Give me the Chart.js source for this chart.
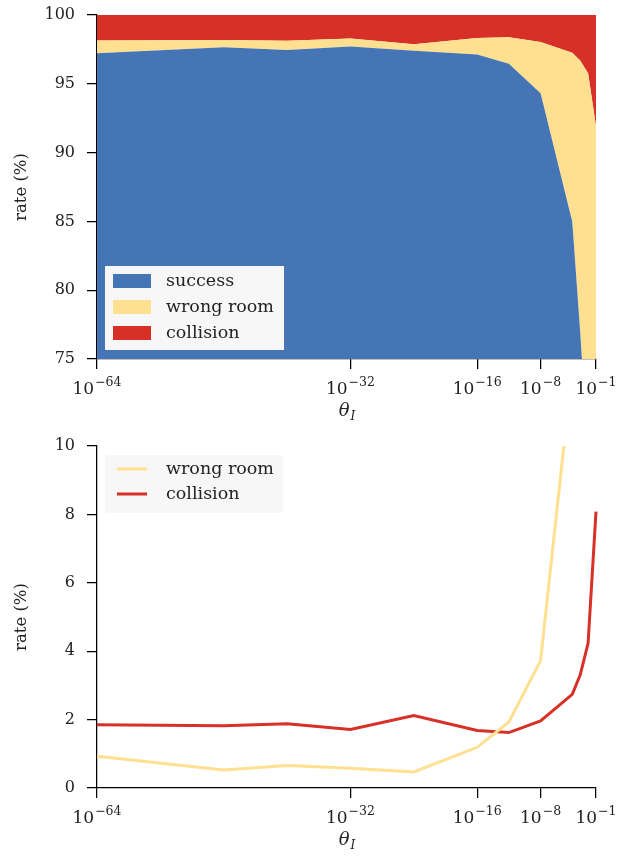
<!DOCTYPE html>
<html>
<head>
<meta charset="utf-8">
<script src="https://cdn.jsdelivr.net/npm/chart.js@4"></script>
<style>
  body { margin: 0; background: #fff; }
  .box { position: absolute; left: 0; width: 618px; }
</style>
</head>
<body>
<div class="box" style="top:0;height:430px"><canvas id="topChart"></canvas></div>
<div class="box" style="top:430px;height:426px"><canvas id="bottomChart"></canvas></div>
<script>
// exponent of theta_I (log10), x axis is linear in the exponent
const exps = [-64, -48, -40, -32, -24, -16, -12, -8, -4, -3, -2, -1];
const success = [97.22, 97.65, 97.46, 97.71, 97.41, 97.13, 96.45, 94.32, 85.0, 77.0, 68.0, 50.0];
const wrongRoom = [0.93, 0.53, 0.66, 0.58, 0.47, 1.19, 1.93, 3.72, 12.26, 19.7, 27.77, 41.92];
const collision = [1.85, 1.82, 1.88, 1.71, 2.12, 1.68, 1.62, 1.96, 2.74, 3.30, 4.23, 8.08];

const xTicks = [-64, -32, -16, -8, -1];
const xTickBase = '10';
const xTickExps = ['\u221264', '\u221232', '\u221216', '\u22128', '\u22121'];

const BLUE = '#4575b4', YELLOW = '#fee090', RED = '#d73027';
const SERIF = '"DejaVu Serif", serif';

function pts(ys) {
  return exps.map((e, i) => ({ x: e, y: ys[i] }));
}

function xScale() {
  return {
    type: 'linear', min: -64, max: -1,
    afterBuildTicks: s => { s.ticks = xTicks.map(v => ({ value: v })); },
    afterFit: s => { s.height = s.chart.height - s.chart.options.plotBottom; s.paddingLeft = 0; s.paddingRight = 0; },
    ticks: { display: false },
    grid: { display: true, drawOnChartArea: false, drawTicks: true, tickLength: 10, color: '#000', lineWidth: 1.25 },
    border: { display: true, color: '#000', width: 1.25 }
  };
}

function yScale(min, max, step, stacked) {
  return {
    min: min, max: max, stacked: stacked,
    afterFit: s => { s.width = 97; s.paddingTop = 0; s.paddingBottom = 0; },
    ticks: { stepSize: step, padding: 12, color: '#222', font: { family: SERIF, size: 16 } },
    grid: { display: true, drawOnChartArea: false, drawTicks: true, tickLength: 10, color: '#000', lineWidth: 1.25 },
    border: { display: true, color: '#000', width: 1.25 }
  };
}

// x tick labels with exponents, axis titles and legend drawn on the canvas
const decor = {
  id: 'decor',
  afterDraw(chart) {
    const ctx = chart.ctx, a = chart.chartArea, o = chart.options;
    const xs = chart.scales.x;
    ctx.save();
    ctx.fillStyle = '#222';
    ctx.textAlign = 'left';
    ctx.textBaseline = 'alphabetic';
    // x tick labels 10^e
    xTicks.forEach((v, i) => {
      ctx.font = '17px ' + SERIF;
      const wb = ctx.measureText(xTickBase).width;
      ctx.font = '12.5px ' + SERIF;
      const we = ctx.measureText(xTickExps[i]).width;
      const x0 = xs.getPixelForValue(v) - (wb + we + 1) / 2;
      const by = a.bottom + 35;
      ctx.font = '17px ' + SERIF;
      ctx.fillText(xTickBase, x0, by);
      ctx.font = '12.5px ' + SERIF;
      ctx.fillText(xTickExps[i], x0 + wb + 1, by - 8);
    });
    // y title
    ctx.font = '16.5px ' + SERIF;
    ctx.translate(22, (a.top + a.bottom) / 2);
    ctx.rotate(-Math.PI / 2);
    ctx.textAlign = 'center';
    ctx.textBaseline = 'middle';
    ctx.fillText('rate (%)', 0, 0);
    ctx.setTransform(chart.currentDevicePixelRatio, 0, 0, chart.currentDevicePixelRatio, 0, 0);
    // x title theta_I
    const cx = (a.left + a.right) / 2, ty = a.bottom + 57;
    ctx.textAlign = 'left';
    ctx.textBaseline = 'alphabetic';
    ctx.font = 'italic 18px ' + SERIF;
    const w1 = ctx.measureText('\u03B8').width;
    ctx.font = 'italic 12px ' + SERIF;
    const w2 = ctx.measureText('I').width;
    const sx = cx - (w1 + w2) / 2;
    ctx.font = 'italic 18px ' + SERIF;
    ctx.fillText('\u03B8', sx, ty);
    ctx.font = 'italic 12px ' + SERIF;
    ctx.fillText('I', sx + w1 + 1, ty + 4);
    // legend
    const L = o.legendBox;
    ctx.fillStyle = '#f7f7f7';
    ctx.fillRect(L.x, L.y, L.w, L.h);
    ctx.font = '17.5px ' + SERIF;
    ctx.textBaseline = 'middle';
    L.items.forEach((it, i) => {
      const ds = chart.data.datasets[it];
      const yy = L.y + L.first + i * L.step;
      if (L.kind === 'patch') {
        ctx.fillStyle = ds.backgroundColor;
        ctx.fillRect(L.x + 8, yy - 7, 38, 14);
      } else {
        ctx.strokeStyle = ds.borderColor;
        ctx.lineWidth = 3;
        ctx.beginPath();
        ctx.moveTo(L.x + 12, yy);
        ctx.lineTo(L.x + 42, yy);
        ctx.stroke();
      }
      ctx.fillStyle = '#222';
      ctx.fillText(ds.label, L.x + 61, yy);
    });
    ctx.restore();
  }
};

new Chart(document.getElementById('topChart'), {
  type: 'line',
  data: {
    datasets: [
      { label: 'success', data: pts(success), backgroundColor: BLUE, borderWidth: 0, fill: 'start', pointRadius: 0, tension: 0 },
      { label: 'wrong room', data: pts(wrongRoom), backgroundColor: YELLOW, borderWidth: 0, fill: '-1', pointRadius: 0, tension: 0 },
      { label: 'collision', data: pts(collision), backgroundColor: RED, borderWidth: 0, fill: '-1', pointRadius: 0, tension: 0 }
    ]
  },
  options: {
    responsive: true, maintainAspectRatio: false, animation: false,
    plotBottom: 359,
    legendBox: { x: 105, y: 266, w: 179, h: 84, first: 15, step: 26, items: [0, 1, 2], kind: 'patch' },
    layout: { padding: { top: 15, right: 22, left: 0, bottom: 0 } },
    plugins: { legend: { display: false }, tooltip: { enabled: false } },
    scales: { x: xScale(), y: yScale(75, 100, 5, true) }
  },
  plugins: [decor]
});

new Chart(document.getElementById('bottomChart'), {
  type: 'line',
  data: {
    datasets: [
      { label: 'wrong room', data: pts(wrongRoom), borderColor: YELLOW, borderWidth: 3, fill: false, pointRadius: 0, tension: 0, clip: { left: 5, right: 5, top: 0, bottom: 5 } },
      { label: 'collision', data: pts(collision), borderColor: RED, borderWidth: 3, fill: false, pointRadius: 0, tension: 0, clip: { left: 5, right: 5, top: 0, bottom: 5 } }
    ]
  },
  options: {
    responsive: true, maintainAspectRatio: false, animation: false,
    plotBottom: 358,
    legendBox: { x: 105, y: 25, w: 178, h: 58, first: 14, step: 25, items: [0, 1], kind: 'line' },
    layout: { padding: { top: 16, right: 22, left: 0, bottom: 0 } },
    plugins: { legend: { display: false }, tooltip: { enabled: false } },
    scales: { x: xScale(), y: yScale(0, 10, 2, false) }
  },
  plugins: [decor]
});
</script>
</body>
</html>
